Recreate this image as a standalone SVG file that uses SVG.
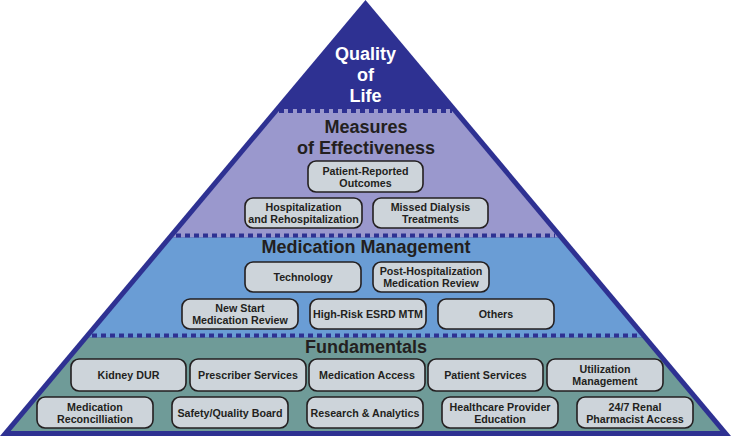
<svg xmlns="http://www.w3.org/2000/svg" width="732" height="437" viewBox="0 0 732 437">
<style>
.box{fill:#cdd4da;stroke:#231f20;stroke-width:1.6}
.bt{font-family:"Liberation Sans",Arial,sans-serif;font-weight:bold;font-size:10.7px;fill:#231f20;text-anchor:middle}
.lt{font-family:"Liberation Sans",Arial,sans-serif;font-weight:bold;font-size:18px;fill:#231f20;text-anchor:middle}
.qt{font-family:"Liberation Sans",Arial,sans-serif;font-weight:bold;font-size:18px;fill:#ffffff;text-anchor:middle}
.dash{stroke:#2e3192;stroke-width:4;stroke-dasharray:5 4;fill:none}
</style>
<rect width="732" height="437" fill="#ffffff"/>
<g id="pyramid">
<polygon points="365.5,0 0,436 731,436" fill="#2e3192"/>
<polygon points="280.6,109 450.4,109 558.1,237.5 172.9,237.5" fill="#9a98cd"/>
<polygon points="172.9,237.5 558.1,237.5 642,337.5 89,337.5" fill="#6a9dd5"/>
<polygon points="89,337.5 642,337.5 720.3,431 10.7,431" fill="#6f9b98"/>
</g>
<g id="separators">
<line class="dash" x1="279" y1="111" x2="452" y2="111"/>
<line class="dash" x1="176" y1="235.5" x2="555" y2="235.5"/>
<line class="dash" x1="92" y1="335.5" x2="639" y2="335.5"/>
</g>
<g id="quality-of-life">
<text class="qt" x="365.5" y="60">Quality</text>
<text class="qt" x="365.5" y="81">of</text>
<text class="qt" x="365.5" y="102">Life</text>
</g>
<g id="measures">
<text class="lt" x="366" y="133">Measures</text>
<text class="lt" x="366" y="154">of Effectiveness</text>
</g>
<g id="n-pro"><rect class="box" x="308" y="161" width="115" height="31" rx="8"/><text class="bt" x="365.5" y="174.5">Patient-Reported</text><text class="bt" x="365.5" y="186.5">Outcomes</text></g>
<g id="n-hosp"><rect class="box" x="245" y="198" width="117" height="30" rx="8"/><text class="bt" x="303.5" y="211">Hospitalization</text><text class="bt" x="303.5" y="223">and Rehospitalization</text></g>
<g id="n-missed"><rect class="box" x="373" y="198" width="115" height="30" rx="8"/><text class="bt" x="430.5" y="211">Missed Dialysis</text><text class="bt" x="430.5" y="223">Treatments</text></g>
<g id="medication-management"><text class="lt" x="366" y="253">Medication Management</text></g>
<g id="n-tech"><rect class="box" x="245" y="262" width="116" height="30" rx="8"/><text class="bt" x="303" y="281">Technology</text></g>
<g id="n-posthosp"><rect class="box" x="373" y="262" width="116" height="30" rx="8"/><text class="bt" x="431" y="275">Post-Hospitalization</text><text class="bt" x="431" y="287">Medication Review</text></g>
<g id="n-newstart"><rect class="box" x="182" y="299" width="116" height="30" rx="8"/><text class="bt" x="240" y="312">New Start</text><text class="bt" x="240" y="324">Medication Review</text></g>
<g id="n-highrisk"><rect class="box" x="310" y="299" width="116" height="30" rx="8"/><text class="bt" x="368" y="318">High-Risk ESRD MTM</text></g>
<g id="n-others"><rect class="box" x="438" y="299" width="116" height="30" rx="8"/><text class="bt" x="496" y="318">Others</text></g>
<g id="fundamentals"><text class="lt" x="366" y="353">Fundamentals</text></g>
<g id="n-kidney"><rect class="box" x="71" y="359" width="115" height="32" rx="8"/><text class="bt" x="128.5" y="379">Kidney DUR</text></g>
<g id="n-prescriber"><rect class="box" x="190" y="359" width="116" height="32" rx="8"/><text class="bt" x="248" y="379">Prescriber Services</text></g>
<g id="n-access"><rect class="box" x="309" y="359" width="116" height="32" rx="8"/><text class="bt" x="367" y="379">Medication Access</text></g>
<g id="n-patient"><rect class="box" x="428" y="359" width="115" height="32" rx="8"/><text class="bt" x="485.5" y="379">Patient Services</text></g>
<g id="n-utilization"><rect class="box" x="547" y="359" width="116" height="32" rx="8"/><text class="bt" x="605" y="373">Utilization</text><text class="bt" x="605" y="385">Management</text></g>
<g id="n-reconciliation"><rect class="box" x="37" y="397" width="116" height="31" rx="8"/><text class="bt" x="95" y="410.5">Medication</text><text class="bt" x="95" y="422.5">Reconcilliation</text></g>
<g id="n-safety"><rect class="box" x="172" y="397" width="116" height="31" rx="8"/><text class="bt" x="230" y="416.5">Safety/Quality Board</text></g>
<g id="n-research"><rect class="box" x="307" y="397" width="116" height="31" rx="8"/><text class="bt" x="365" y="416.5">Research &amp; Analytics</text></g>
<g id="n-education"><rect class="box" x="442" y="397" width="116" height="31" rx="8"/><text class="bt" x="500" y="410.5">Healthcare Provider</text><text class="bt" x="500" y="422.5">Education</text></g>
<g id="n-renal"><rect class="box" x="577" y="397" width="116" height="31" rx="8"/><text class="bt" x="635" y="410.5">24/7 Renal</text><text class="bt" x="635" y="422.5">Pharmacist Access</text></g>
</svg>
